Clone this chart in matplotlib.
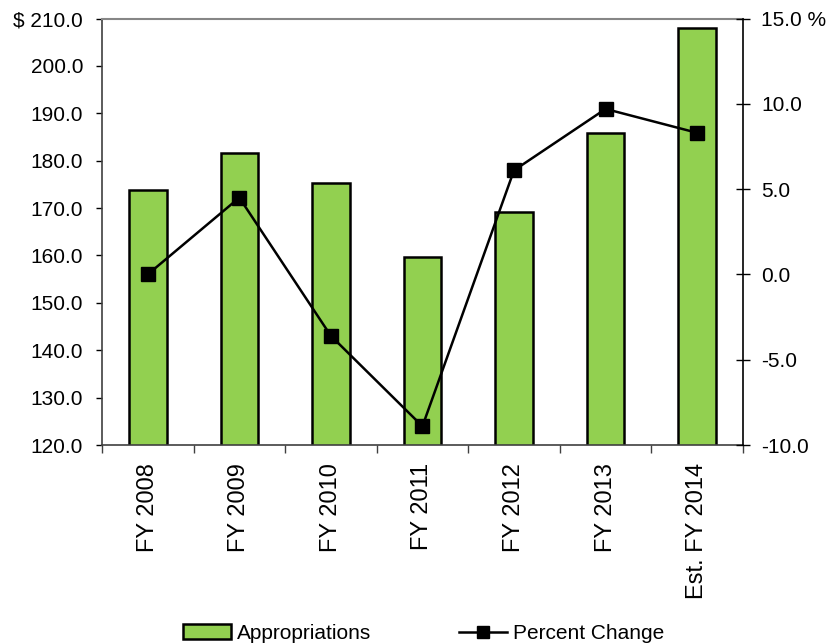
import matplotlib.pyplot as plt
from matplotlib.patches import Patch
from matplotlib.lines import Line2D

plt.rcParams['font.family'] = ['Liberation Sans', 'DejaVu Sans']

# Daten
categories = ['FY 2008', 'FY 2009', 'FY 2010', 'FY 2011', 'FY 2012', 'FY 2013', 'Est. FY 2014']
appropriations = [173.9, 181.6, 175.2, 159.7, 169.2, 185.8, 207.9]  # $
pct_change = [0.0, 4.5, -3.6, -8.9, 6.1, 9.7, 8.3]  # %

left_ticks = [120, 130, 140, 150, 160, 170, 180, 190, 200, 210]
left_labels = ['120.0', '130.0', '140.0', '150.0', '160.0', '170.0', '180.0', '190.0', '200.0', '$ 210.0']
right_ticks = [-10, -5, 0, 5, 10, 15]
right_labels = ['-10.0', '-5.0', '0.0', '5.0', '10.0', '15.0 %']

BAR_COLOR = '#92D050'

fig = plt.figure(figsize=(8.31, 6.43), dpi=100)
ax = fig.add_axes([0.1227, 0.3079, 0.894 - 0.1227, 0.9712 - 0.3079])

x = list(range(len(categories)))
ax.bar(x, appropriations, width=0.41, color=BAR_COLOR, edgecolor='black', linewidth=1.8, zorder=2)
ax.set_xlim(-0.5, len(categories) - 0.5)
ax.set_ylim(120, 210)
ax.set_yticks(left_ticks)
ax.set_yticklabels(left_labels, fontsize=15)
ax.tick_params(axis='y', direction='out', length=4, width=1, pad=9.5, colors='black')

# Kategorien mittig, Teilstriche an den Grenzen
ax.set_xticks(x)
ax.set_xticklabels(categories, rotation=90, fontsize=17, va='top', ha='center')
ax.tick_params(axis='x', which='major', length=0, pad=13)
ax.set_xticks([i - 0.5 for i in range(len(categories) + 1)], minor=True)
ax.tick_params(axis='x', which='minor', direction='out', length=6, width=1, color='#404040')

ax.spines['top'].set_color('#868686')
ax.spines['top'].set_linewidth(1.5)
ax.spines['right'].set_visible(False)
ax.spines['left'].set_color('#404040')
ax.spines['left'].set_linewidth(1.2)
ax.spines['bottom'].set_color('#404040')
ax.spines['bottom'].set_linewidth(1.2)

# Zweite Achse: Prozentuale Veränderung
ax2 = ax.twinx()
ax2.plot(x, pct_change, color='black', linewidth=1.8, marker='s', markersize=10.5, zorder=3)
ax2.set_ylim(-10, 15)
ax2.set_yticks(right_ticks)
ax2.set_yticklabels(right_labels, fontsize=15)
ax2.tick_params(axis='y', direction='inout', length=9.5, width=1, pad=8.5)
for s in ['top', 'left', 'bottom']:
    ax2.spines[s].set_visible(False)
ax2.spines['right'].set_color('black')
ax2.spines['right'].set_linewidth(1.2)

handles = [
    Patch(facecolor=BAR_COLOR, edgecolor='black', linewidth=1.8, label='Appropriations'),
    Line2D([0], [0], color='black', linewidth=1.8, marker='s', markersize=8, label='Percent Change'),
]
fig.legend(handles=handles, loc='lower center', bbox_to_anchor=(0.51, -0.029), ncol=2, frameon=False,
           fontsize=15, handlelength=2.3, handletextpad=0.3, columnspacing=4.2)

fig.savefig('out.png', dpi=100)
